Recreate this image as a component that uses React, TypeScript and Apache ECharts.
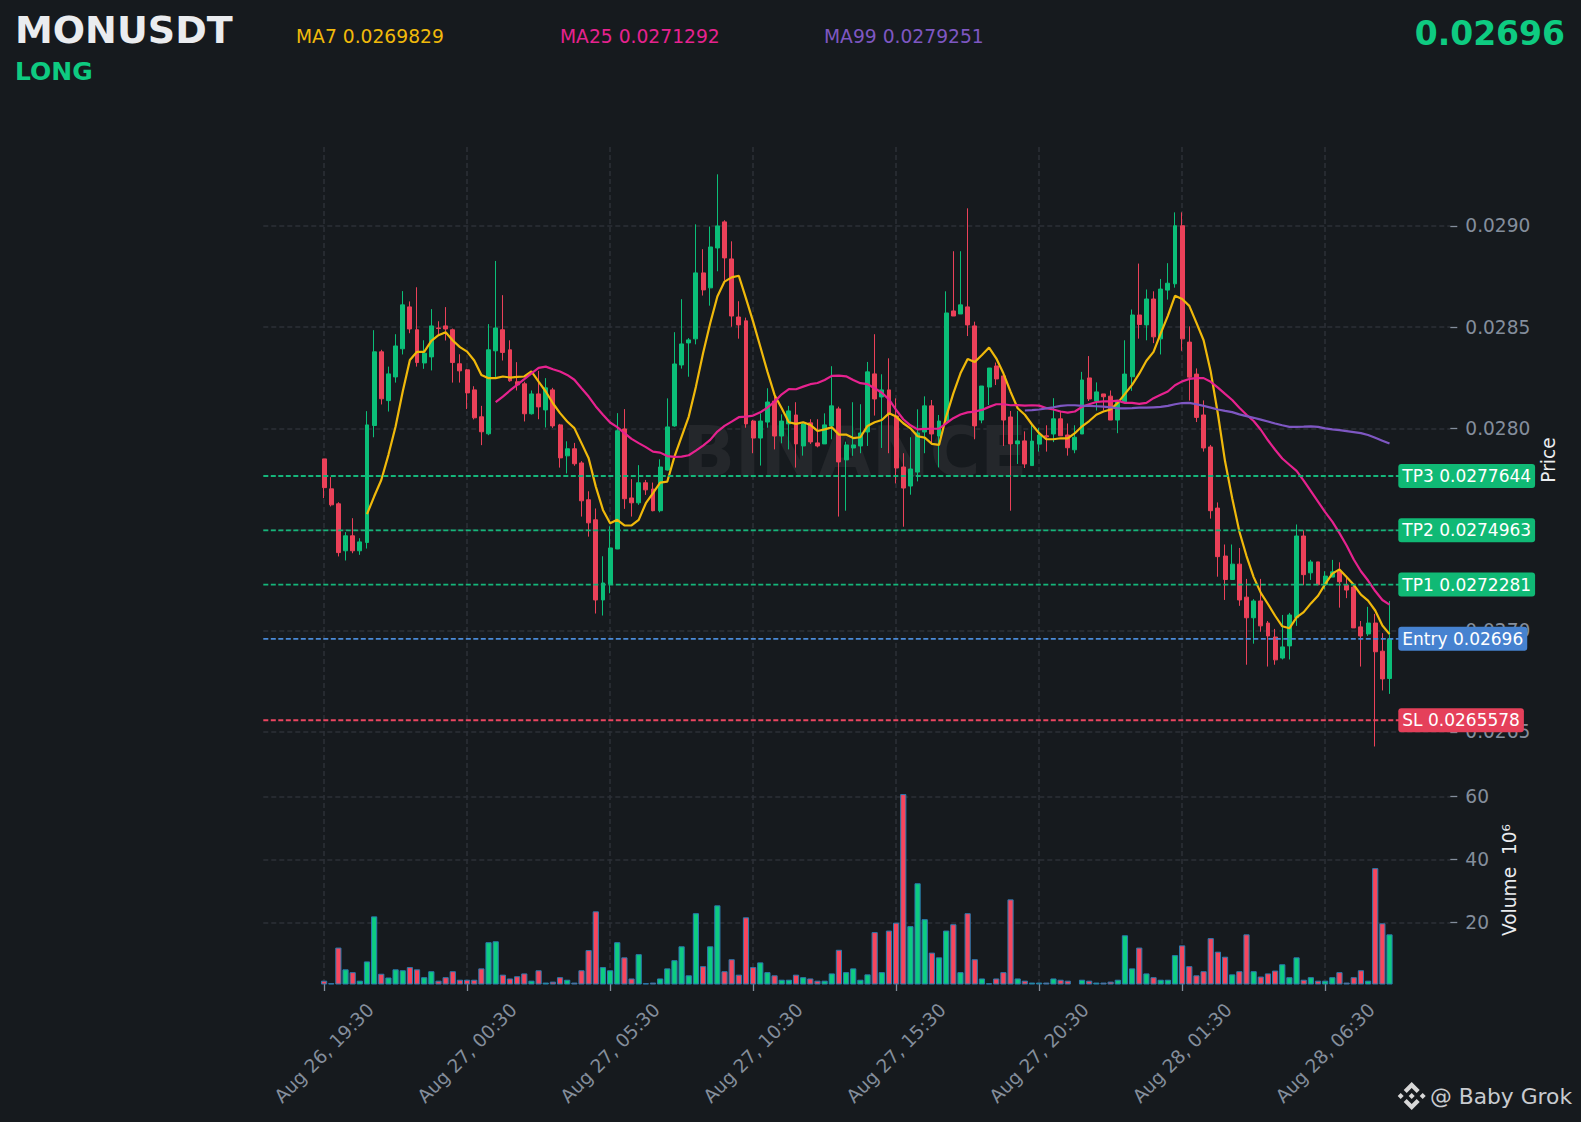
import React, { useEffect, useRef } from "react";
import * as echarts from "echarts";

const SYMBOL = "MONUSDT";
const SIDE = "LONG";
const LAST_PRICE = "0.02696";
const MA_LEGEND = ["MA7 0.0269829", "MA25 0.0271292", "MA99 0.0279251"];
const PRICE_UNIT = 1e-6; // the price lists below are in millionths
const priceTicks = [0.0265, 0.027, 0.0275, 0.028, 0.0285, 0.029];
const priceTickLabels = ["0.0265", "0.0270", "0.0275", "0.0280", "0.0285", "0.0290"];
const volumeTicks = [20, 40, 60];
const levelNames = ["TP3 0.0277644", "TP2 0.0274963", "TP1 0.0272281", "Entry 0.02696", "SL 0.0265578"];
const levelValues = [0.0277644, 0.0274963, 0.0272281, 0.02696, 0.0265578];

const opens = [27849,27701,27627,27395,27469,27395,27436,28014,28378,28137,
28254,28393,28600,28487,28323,28353,28496,28506,28487,28319,
28289,28190,28057,27973,28383,28487,28388,28230,28220,28072,
28170,28091,28190,28017,27864,27899,27829,27647,27548,27152,
27231,27404,27997,27656,27632,27731,27700,27593,27794,28012,
28313,28422,28442,28768,28694,28891,29020,28837,28550,28531,
28036,27952,28031,28135,27962,28022,28066,27913,28027,27928,
27923,28012,28096,27844,27903,27913,27982,28269,28155,28190,
28061,27809,27715,27784,27982,28111,27962,28036,28580,28565,
28600,28506,28041,28204,28308,28259,28056,27923,27938,27816,
27922,27963,27972,28047,27967,27894,27972,28249,28135,28170,
28159,28041,28131,28255,28560,28511,28639,28442,28683,28714,
29001,28426,28268,28066,27908,27606,27369,27253,27329,27166,
27064,27147,27038,26969,26865,26925,27064,27468,27286,27340,
27227,27265,27294,27225,27216,27019,26984,27038,26899,26764];
const closes = [27707,27622,27386,27469,27395,27439,28017,28378,28146,28269,
28407,28610,28491,28325,28371,28506,28493,28491,28325,28284,
28175,28052,27983,28388,28496,28375,28235,28215,28072,28170,
28106,28200,28012,27854,27899,27825,27642,27533,27152,27236,
27409,27988,27652,27632,27731,27696,27593,27809,28007,28318,
28417,28437,28768,28684,28896,29000,28842,28555,28511,28022,
27952,28036,28130,27962,28036,28086,27923,28022,27933,27913,
28017,28111,27834,27918,27918,27977,28279,28145,28190,28071,
27804,27705,27799,27977,28111,27972,28036,28570,28555,28610,
28511,28012,28209,28298,28244,28041,27923,27938,27824,27937,
27967,27958,28047,27963,27904,27956,28239,28145,28180,28156,
28041,28135,28268,28560,28513,28639,28452,28688,28717,29001,
28442,28253,28054,27903,27593,27366,27253,27329,27152,27064,
27147,27024,26974,26856,26920,27078,27468,27277,27340,27227,
27270,27291,27242,27201,27014,26974,27038,26896,26762,26960];
const lows = [27655,27614,27367,27347,27383,27375,27406,27956,28118,28083,
28226,28365,28470,28305,28294,28286,28457,28434,28226,28226,
28095,28044,27917,27966,28254,28335,28230,28187,28034,28068,
28045,28004,28002,27806,27777,27815,27564,27465,27085,27075,
27185,27403,27602,27564,27622,27671,27590,27585,27791,28008,
28295,28255,28415,28656,28606,28776,28730,28502,28443,28003,
27877,27816,28003,27896,27926,27896,27806,27865,27923,27906,
27923,27946,27564,27593,27864,27877,27913,28063,27903,27877,
27728,27514,27672,27738,27877,27923,27807,28033,28555,28565,
28456,27946,28025,28115,28214,27913,27593,27824,27804,27816,
27885,27885,27932,27963,27865,27877,27972,28135,28088,28088,
28041,27976,28131,28185,28443,28435,28421,28365,28636,28695,
28383,28137,28031,27885,27554,27267,27152,27253,27123,26832,
26936,26995,26823,26832,26858,26858,27024,27225,27251,27227,
27204,27265,27114,27161,27014,26823,26974,26428,26705,26688];
const highs = [27849,27759,27635,27487,27556,27457,28085,28485,28388,28305,
28465,28678,28627,28697,28435,28589,28529,28599,28493,28366,
28294,28208,28111,28515,28827,28658,28435,28327,28230,28187,
28284,28248,28200,28022,27936,27928,27838,27689,27604,27368,
27516,28075,28095,27749,27818,27745,27732,27847,28148,28475,
28638,28446,29008,28885,28997,29255,29028,28924,28628,28547,
28041,28074,28198,28173,28069,28111,28129,28031,28045,28045,
28074,28307,28107,27934,28129,28119,28328,28465,28267,28346,
28148,27877,27956,28094,28158,28140,28066,28677,28875,28875,
29087,28527,28209,28298,28325,28272,28086,28086,27985,28019,
28002,28015,28149,28083,28024,28015,28279,28357,28227,28170,
28187,28135,28435,28587,28814,28686,28677,28738,28816,29067,
29067,28504,28296,28138,27918,27634,27426,27426,27409,27256,
27156,27256,27048,27009,27078,27088,27525,27496,27350,27340,
27294,27350,27338,27265,27227,27048,27118,27083,26988,27147];
const volumes = [1.6,0.8,12.1,5.2,4.3,1.6,7.7,22.0,3.8,2.6,
5.2,4.9,5.9,5.2,2.7,4.6,1.6,2.7,4.6,1.9,
1.9,1.9,5.5,13.8,14.1,3.5,2.3,3.0,3.9,1.6,
4.9,1.0,1.3,2.7,1.9,1.0,4.9,11.3,23.6,5.9,
4.9,13.8,9.0,2.3,10.0,0.8,1.0,2.3,5.5,8.1,
12.5,3.3,23.0,6.2,12.5,25.5,4.6,8.4,3.5,21.7,
5.9,7.4,4.3,3.3,1.9,1.9,3.5,2.7,2.3,1.6,
1.6,3.9,11.4,4.3,5.5,1.9,3.6,17.0,4.3,17.5,
20.0,60.8,18.9,32.5,21.1,10.5,9.0,17.5,19.5,4.3,
23.0,8.4,2.3,0.8,2.3,4.3,27.4,2.3,1.6,1.0,
1.0,1.0,2.3,1.9,1.6,0.6,1.9,1.6,1.0,1.0,
1.3,1.9,16.0,5.5,12.1,3.9,2.7,1.9,1.9,9.7,
12.8,6.2,3.3,4.6,15.1,10.8,9.2,3.6,4.6,16.3,
4.6,2.9,3.9,4.8,6.8,2.7,9.0,1.9,2.7,1.6,
1.6,2.7,4.3,1.0,2.7,4.9,1.6,37.3,19.8,16.3];
const MA7_START = 6;
const ma7 = [27576,27663,27745,27869,28009,28182,28338,28378,28378,28432,
28460,28475,28434,28401,28379,28335,28264,28248,28248,28256,
28251,28254,28256,28281,28231,28182,28124,28075,28034,28001,
27927,27852,27712,27597,27531,27548,27520,27520,27548,27630,
27680,27732,27737,27860,27959,28058,28206,28371,28519,28651,
28725,28746,28754,28642,28527,28404,28280,28165,28099,28030,
28022,28030,28017,27987,27995,28005,27969,27969,27952,27956,
28012,28030,28041,28074,28058,28025,28000,27961,27954,27923,
27918,28058,28173,28272,28343,28328,28362,28399,28346,28272,
28181,28099,28067,28019,27976,27946,27946,27951,27950,27976,
28010,28036,28067,28083,28093,28126,28170,28215,28270,28334,
28378,28469,28556,28655,28639,28605,28521,28435,28279,28071,
27837,27655,27490,27369,27265,27187,27132,27074,27022,27012,
27066,27092,27135,27173,27230,27282,27303,27265,27227,27178,
27149,27100,27026,26983];
const MA25_START = 24;
const ma25 = [28129,28157,28187,28215,28243,28272,28299,28305,28292,28281,
28264,28240,28198,28157,28108,28067,28029,28006,27976,27948,
27927,27907,27885,27880,27863,27859,27860,27867,27890,27915,
27943,27984,28012,28033,28055,28058,28063,28079,28102,28132,
28168,28194,28193,28206,28218,28224,28239,28259,28260,28257,
28239,28223,28218,28198,28176,28143,28091,28045,28015,27995,
27997,27998,27998,28025,28050,28068,28079,28083,28091,28106,
28119,28119,28114,28115,28112,28114,28112,28100,28093,28083,
28078,28083,28106,28119,28130,28133,28133,28137,28126,28126,
28121,28126,28149,28166,28182,28213,28232,28244,28248,28248,
28230,28201,28170,28140,28102,28067,28036,27993,27941,27894,
27851,27820,27790,27742,27690,27638,27586,27539,27482,27421,
27352,27294,27248,27196,27152,27129];
const MA99_START = 98;
const ma99 = [28088,28090,28093,28099,28104,28111,28114,28114,28111,28111,
28109,28107,28104,28099,28099,28100,28102,28102,28104,28106,
28111,28119,28125,28126,28119,28111,28102,28093,28086,28080,
28069,28060,28052,28043,28034,28024,28015,28007,28007,28008,
28010,28007,28000,27995,27991,27986,27981,27976,27967,27953,27939,27925];
const axisTimeLabels = ["Aug 26, 19:30", "Aug 27, 00:30", "Aug 27, 05:30", "Aug 27, 10:30", "Aug 27, 15:30", "Aug 27, 20:30", "Aug 28, 01:30", "Aug 28, 06:30"];

const LEAD_PADDING = 8;
const TRAIL_PADDING = 8;
const LABEL_EVERY = 20;

const BG = "#161A1E";
const GRID = "#2C3037";
const MUTED = "#848E9C";
const UP = "#0BBE78";
const DOWN = "#EB4159";
const VOL_UP = "#0ECB81";
const VOL_DOWN = "#F6465D";
const VOL_EDGE = "#2A7BB0";
const MA_COLORS = ["#F0B90B", "#E6228F", "#7E57C2"];
const LEVEL_LINE = ["#15B57A", "#15B57A", "#15B57A", "#4A8AD8", "#EA4560"];
const LEVEL_BOX = ["#10B975", "#10B975", "#10B975", "#4682D0", "#E5405A"];

const categories: string[] = [];
for (let i = 0; i < LEAD_PADDING + opens.length + TRAIL_PADDING; i++) {
  const k = i - LEAD_PADDING;
  categories.push(k >= 0 && k % LABEL_EVERY === 0 && axisTimeLabels[k / LABEL_EVERY] ? axisTimeLabels[k / LABEL_EVERY] : "c" + i);
}
const isLabelled = (_i: number, name: string) => name.startsWith("Aug");
const toPrice = (v: number) => +(v * PRICE_UNIT).toFixed(6);
const pad = <T,>(list: T[], start: number, fill: any = null): any[] =>
  new Array(LEAD_PADDING + start).fill(fill).concat(list as any[]);

const logoParts: number[][][] = [
  [[0, -14], [8, -6], [5, -3], [0, -8], [-5, -3], [-8, -6]],
  [[0, 14], [8, 6], [5, 3], [0, 8], [-5, 3], [-8, 6]],
  [[-14, 0], [-11, -3], [-8, 0], [-11, 3]],
  [[14, 0], [11, -3], [8, 0], [11, 3]],
  [[0, -3], [3, 0], [0, 3], [-3, 0]],
];

const FONT = "'DejaVu Sans', sans-serif";
const LEFT = 263.3;
const WIDTH = 1187;
const TICK_FONT = 18.6;

export default function App() {
  const ref = useRef<HTMLDivElement>(null);
  useEffect(() => {
    const chart = echarts.init(ref.current!, undefined, { renderer: "svg" });
    const candles = opens.map((o, i) => [toPrice(o), toPrice(closes[i]), toPrice(lows[i]), toPrice(highs[i])]);
    const gridLine = { show: true, lineStyle: { color: GRID, type: [5, 3] as any, width: 1.5 } };
    const levelSeries = levelValues.map((v, i) => ({
      type: "line",
      name: levelNames[i],
      xAxisIndex: 3,
      yAxisIndex: 0,
      symbol: "none",
      z: 6,
      clip: false,
      data: [[0, v], [1, v]],
      lineStyle: { color: LEVEL_LINE[i], type: [5, 2.5] as any, width: 1.8 },
      endLabel: {
        show: true,
        formatter: levelNames[i],
        align: "left",
        distance: -52,
        color: "#FFFFFF",
        fontSize: 17,
        fontFamily: FONT,
        backgroundColor: LEVEL_BOX[i],
        padding: [3.5, 4, 3.5, 4],
        borderRadius: 3,
      },
    }));
    chart.setOption({
      animation: false,
      backgroundColor: BG,
      textStyle: { fontFamily: FONT },
      grid: [
        { left: LEFT, width: WIDTH, top: 147, height: 608 },
        { left: LEFT, width: WIDTH, top: 755, height: 229 },
        { left: LEFT, width: WIDTH, top: 147, height: 837 },
      ],
      xAxis: [
        { type: "category", gridIndex: 0, data: categories, show: false },
        { type: "category", gridIndex: 1, data: categories, show: false },
        {
          type: "category",
          gridIndex: 2,
          data: categories,
          axisLine: { show: false },
          axisTick: { show: true, alignWithLabel: true, interval: isLabelled, length: 7, lineStyle: { color: MUTED, width: 1.3 } },
          splitLine: { ...gridLine, alignWithLabel: true, interval: isLabelled },
          axisLabel: {
            interval: isLabelled,
            rotate: 45,
            align: "center",
            verticalAlign: "middle",
            margin: 69,
            color: MUTED,
            fontSize: TICK_FONT,
            fontFamily: FONT,
          },
        },
        { type: "value", gridIndex: 0, min: 0, max: 1, show: false, axisLine: { onZero: false } },
      ],
      yAxis: [
        {
          type: "value",
          gridIndex: 0,
          position: "right",
          min: 0.026386,
          max: 0.02939,
          axisLine: { show: false, onZero: false },
          axisTick: { show: true, customValues: priceTicks, length: 7, lineStyle: { color: MUTED, width: 1.3 } },
          axisLabel: {
            customValues: priceTicks,
            margin: 15,
            padding: [2, 0, 0, 0],
            color: MUTED,
            fontSize: TICK_FONT,
            fontFamily: FONT,
            formatter: (v: number) => priceTickLabels[priceTicks.findIndex((t) => Math.abs(t - v) < 1e-7)] ?? "",
          },
          splitLine: gridLine,
        },
        {
          type: "value",
          gridIndex: 1,
          position: "right",
          min: 0.54,
          max: 73.2,
          axisLine: { show: false, onZero: false },
          axisTick: { show: true, customValues: volumeTicks, length: 7, lineStyle: { color: MUTED, width: 1.3 } },
          axisLabel: { customValues: volumeTicks, margin: 15, padding: [2, 0, 0, 0], color: MUTED, fontSize: TICK_FONT, fontFamily: FONT },
          splitLine: gridLine,
        },
        { type: "value", gridIndex: 2, min: 0, max: 1, show: false },
      ],
      series: [
        {
          type: "candlestick",
          name: "Price",
          xAxisIndex: 0,
          yAxisIndex: 0,
          barWidth: 4.4,
          data: pad(candles, 0, ["-", "-", "-", "-"]),
          itemStyle: { color: UP, color0: DOWN, borderColor: UP, borderColor0: DOWN, borderWidth: 1 },
        },
        ...[ma7, ma25, ma99].map((list, i) => ({
          type: "line",
          name: MA_LEGEND[i].split(" ")[0],
          xAxisIndex: 0,
          yAxisIndex: 0,
          symbol: "none",
          z: 5,
          data: pad(list.map(toPrice), [MA7_START, MA25_START, MA99_START][i]),
          lineStyle: { color: MA_COLORS[i], width: 2.2 },
        })),
        ...levelSeries,
        {
          type: "bar",
          name: "Volume",
          xAxisIndex: 1,
          yAxisIndex: 1,
          barWidth: 6.2,
          data: pad(
            volumes.map((v, i) => ({
              value: v,
              itemStyle: { color: closes[i] >= opens[i] ? VOL_UP : VOL_DOWN, borderColor: VOL_EDGE, borderWidth: 1 },
            })),
            0,
          ),
        },
      ],
      graphic: [
        { type: "text", z: 1, x: 855, y: 452, style: { text: "BINANCE", fill: "#24272B", font: `bold 69px ${FONT}`, align: "center", verticalAlign: "middle" } },
        { type: "text", x: 15, y: 30, style: { text: SYMBOL, fill: "#EAECEF", font: `bold 38px ${FONT}`, verticalAlign: "middle" } },
        { type: "text", x: 15, y: 71, style: { text: SIDE, fill: VOL_UP, font: `bold 25px ${FONT}`, verticalAlign: "middle" } },
        { type: "text", x: 1565, y: 33, style: { text: LAST_PRICE, fill: VOL_UP, font: `bold 33px ${FONT}`, align: "right", verticalAlign: "middle" } },
        ...MA_LEGEND.map((t, i) => ({
          type: "text",
          x: [296, 560, 824][i],
          y: 36,
          style: { text: t, fill: MA_COLORS[i], font: `18.7px ${FONT}`, verticalAlign: "middle" },
        })),
        { type: "text", x: 1548, y: 460, rotation: Math.PI / 2, style: { text: "Price", fill: "#EAECEF", font: `${TICK_FONT}px ${FONT}`, align: "center", verticalAlign: "middle" } },
        { type: "text", x: 1509, y: 880, rotation: Math.PI / 2, style: { text: "Volume  10⁶", fill: "#EAECEF", font: `${TICK_FONT}px ${FONT}`, align: "center", verticalAlign: "middle" } },
        {
          type: "group",
          x: 1411.7,
          y: 1096,
          children: logoParts.map((points) => ({ type: "polygon", shape: { points }, style: { fill: "#D8D8D8" } })),
        },
        { type: "text", x: 1430, y: 1096, style: { text: "@ Baby Grok", fill: "#C8CBCF", font: `21.8px ${FONT}`, verticalAlign: "middle" } },
      ],
    });
    return () => chart.dispose();
  }, []);
  return <div ref={ref} style={{ position: "fixed", left: 0, top: 0, width: 1581, height: 1122 }} />;
}
